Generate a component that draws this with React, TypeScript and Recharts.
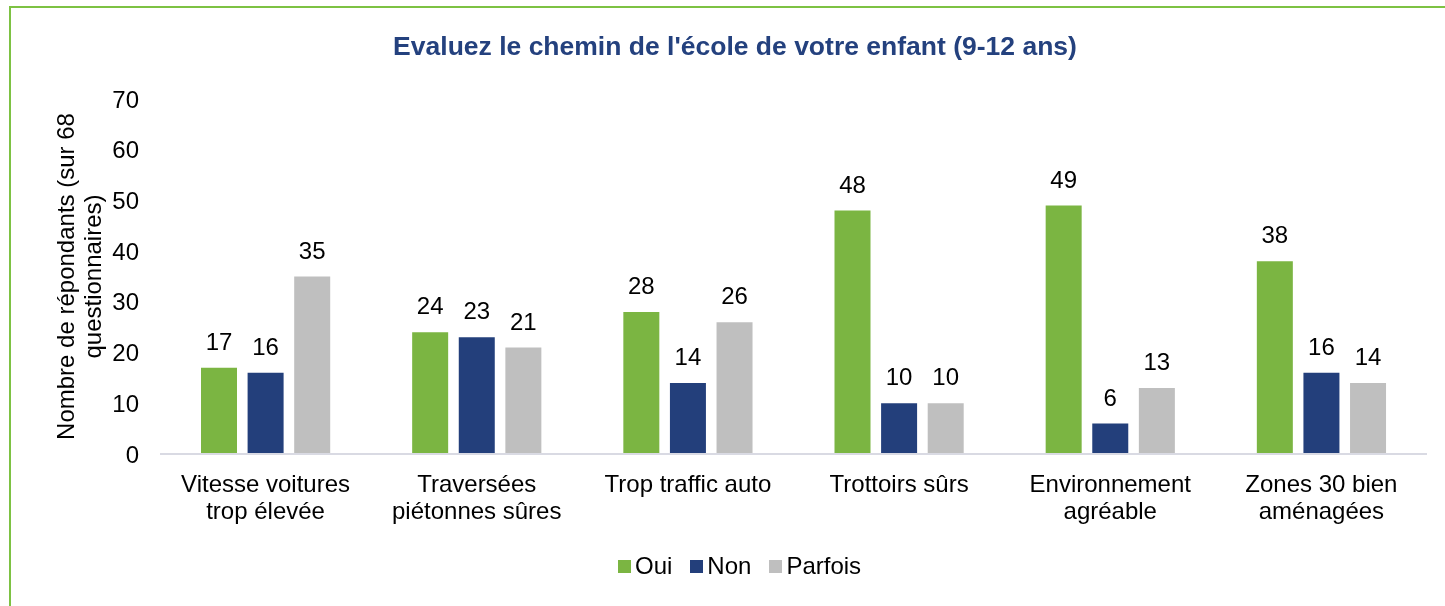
import React from "react";
import { BarChart, Bar, XAxis, YAxis, LabelList, Legend } from "recharts";

const categories = [
  "Vitesse voitures\ntrop élevée",
  "Traversées\npiétonnes sûres",
  "Trop traffic auto",
  "Trottoirs sûrs",
  "Environnement\nagréable",
  "Zones 30 bien\naménagées",
];
const oui = [17, 24, 28, 48, 49, 38];
const non = [16, 23, 14, 10, 6, 16];
const parfois = [35, 21, 26, 10, 13, 14];
const yTicks = [0, 10, 20, 30, 40, 50, 60, 70];
const seriesNames = ["Oui", "Non", "Parfois"];
const title = "Evaluez le chemin de l'école de votre enfant (9-12 ans)";
const yAxisLabelLines = ["Nombre de répondants (sur 68", "questionnaires)"];

const COLORS = ["#7bb542", "#233f7b", "#bfbfbf"];
const FONT = "'Liberation Sans', Arial, sans-serif";
const FS = 24;

const data = categories.map((c, i) => ({
  name: c,
  Oui: oui[i],
  Non: non[i],
  Parfois: parfois[i],
}));

const XTick = (props: any) => {
  const { x, y, payload } = props;
  const lines = String(payload.value).split("\n");
  return (
    <text x={x} y={y} textAnchor="middle" fill="#000" fontSize={FS}>
      {lines.map((l, i) => (
        <tspan key={i} x={x} dy={i === 0 ? 37.5 : 27}>
          {l}
        </tspan>
      ))}
    </text>
  );
};

const YLabel = (props: any) => {
  const vb = props.viewBox || {};
  const cy = vb.y + vb.height / 2;
  const xs = [vb.x + 57, vb.x + 84];
  return (
    <g>
      {yAxisLabelLines.map((l, i) => (
        <text
          key={i}
          x={xs[i]}
          y={cy}
          transform={`rotate(-90, ${xs[i]}, ${cy})`}
          textAnchor="middle"
          dominantBaseline="central"
          fill="#000"
          fontSize={FS}
        >
          {l}
        </text>
      ))}
    </g>
  );
};

const LegendContent = () => {
  return (
    <div style={{ display: "flex", alignItems: "center", fontSize: FS, color: "#000", whiteSpace: "nowrap" }}>
      {seriesNames.map((name, i) => (
        <div key={name} style={{ display: "flex", alignItems: "center", marginRight: i < seriesNames.length - 1 ? 18 : 0 }}>
          <div style={{ width: 13, height: 13, background: COLORS[i], marginRight: 4 }} />
          <span>{name}</span>
        </div>
      ))}
    </div>
  );
};

export default function App() {
  return (
    <div style={{ position: "relative", width: 1429, height: 590, fontFamily: FONT }}>
      <div
        style={{
          position: "fixed",
          left: 9,
          top: 6,
          width: 1436,
          height: 600,
          boxSizing: "border-box",
          borderTop: "2px solid #7dc243",
          borderLeft: "2px solid #7dc243",
          pointerEvents: "none",
        }}
      />
      <div
        style={{
          position: "absolute",
          left: 727,
          top: 24,
          transform: "translateX(-50%)",
          fontSize: 26.5,
          lineHeight: "28px",
          fontWeight: "bold",
          color: "#24417e",
          whiteSpace: "nowrap",
        }}
      >
        {title}
      </div>
      <BarChart
        width={1429}
        height={590}
        data={data}
        margin={{ top: 91, right: 10, left: 0, bottom: 0 }}
        barSize={36}
        barGap={10.6}
      >
        <XAxis
          dataKey="name"
          interval={0}
          tickLine={false}
          tickSize={0}
          tickMargin={0}
          height={144}
          axisLine={{ stroke: "#d9dae3", strokeWidth: 2 }}
          tick={<XTick />}
        />
        <YAxis
          width={152}
          domain={[0, 70]}
          ticks={yTicks}
          axisLine={false}
          tickLine={false}
          tickSize={0}
          tickMargin={21}
          tick={{ fontSize: FS, fill: "#000" }}
          label={<YLabel />}
        />
        <Legend
          verticalAlign="middle"
          align="center"
          layout="horizontal"
          wrapperStyle={{ position: "absolute", left: 610, top: 544, width: "auto" }}
          content={<LegendContent />}
        />
        {seriesNames.map((s, i) => (
          <Bar key={s} dataKey={s} fill={COLORS[i]} isAnimationActive={false}>
            <LabelList dataKey={s} position="top" offset={18} fill="#000" fontSize={FS} />
          </Bar>
        ))}
      </BarChart>
    </div>
  );
}
